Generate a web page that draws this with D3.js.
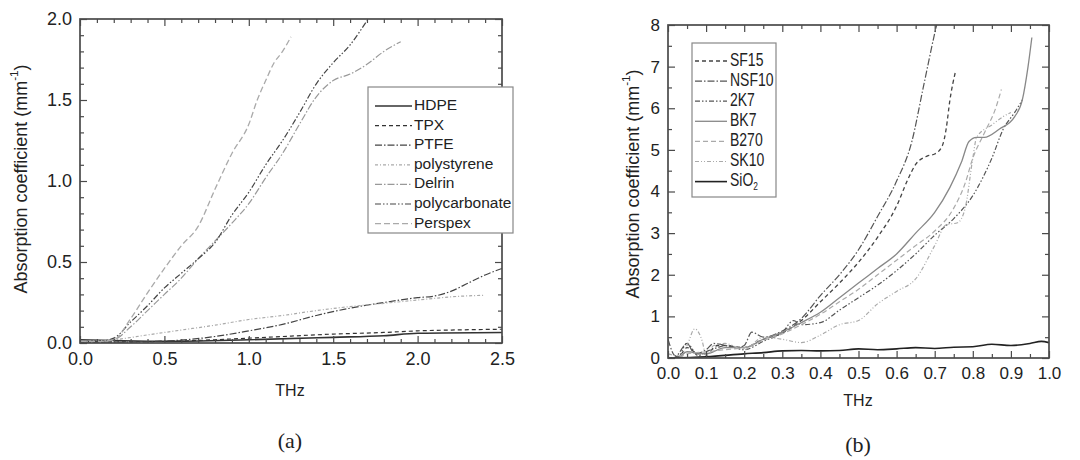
<!DOCTYPE html>
<html>
<head>
<meta charset="utf-8">
<script src="https://cdn.jsdelivr.net/npm/d3@7"></script>
<style>
  html, body { margin: 0; padding: 0; background: #fff; }
  svg { display: block; }
  .sans { font-family: "Liberation Sans", Arial, sans-serif; fill: #222; }
  .serif { font-family: "Liberation Serif", "DejaVu Serif", serif; fill: #222; }
</style>
</head>
<body>
<svg id="fig" width="1080" height="460"></svg>
<script>
// ---- Panel (a): polymers, absorption coefficient (mm^-1) vs frequency (THz)
const polymerNames = ["HDPE", "TPX", "PTFE", "polystyrene", "Delrin", "polycarbonate", "Perspex"];
const hdpe = [[0,0.02],[0.2,0.015],[0.5,0.01],[1.0,0.02],[1.5,0.035],[1.8,0.045],[2.0,0.06],[2.5,0.065]];
const tpx = [[0,0.005],[0.5,0.01],[0.8,0.02],[1.0,0.03],[1.2,0.04],[1.5,0.055],[1.8,0.065],[2.0,0.075],[2.2,0.08],[2.5,0.085]];
const ptfe = [[0,0.005],[0.2,0.005],[0.4,0.008],[0.6,0.018],[0.8,0.04],[1.0,0.075],[1.2,0.115],[1.4,0.17],[1.6,0.215],[1.8,0.25],[2.0,0.28],[2.1,0.29],[2.2,0.32],[2.3,0.37],[2.4,0.42],[2.5,0.46]];
const polystyrene = [[0,0.01],[0.2,0.02],[0.4,0.05],[0.6,0.08],[0.8,0.11],[1.0,0.145],[1.2,0.17],[1.4,0.2],[1.6,0.225],[1.8,0.245],[2.0,0.265],[2.2,0.285],[2.4,0.295]];
const delrin = [[0,0.01],[0.1,0.01],[0.2,0.02],[0.3,0.1],[0.4,0.2],[0.5,0.3],[0.6,0.4],[0.7,0.52],[0.8,0.63],[0.9,0.74],[1.0,0.86],[1.1,1.02],[1.2,1.17],[1.3,1.35],[1.4,1.52],[1.5,1.62],[1.6,1.66],[1.7,1.72],[1.8,1.8],[1.9,1.86]];
const polycarbonate = [[0,0.01],[0.1,0.01],[0.2,0.03],[0.3,0.13],[0.4,0.23],[0.5,0.34],[0.6,0.43],[0.7,0.52],[0.8,0.62],[0.9,0.79],[1.0,0.93],[1.1,1.1],[1.2,1.25],[1.3,1.42],[1.4,1.6],[1.5,1.73],[1.6,1.84],[1.7,1.99]];
const perspex = [[0,0.01],[0.1,0.01],[0.2,0.02],[0.3,0.15],[0.4,0.31],[0.5,0.46],[0.6,0.6],[0.7,0.72],[0.8,0.95],[0.9,1.17],[1.0,1.35],[1.05,1.5],[1.1,1.62],[1.15,1.73],[1.2,1.8],[1.25,1.89]];
const xTicksA = [0, 0.5, 1.0, 1.5, 2.0, 2.5];
const yTicksA = [0, 0.5, 1.0, 1.5, 2.0];

// ---- Panel (b): glasses
const glassNames = ["SF15", "NSF10", "2K7", "BK7", "B270", "SK10", "SiO2"];
const sf15 = [[0,0.0],[0.03,0.05],[0.05,0.25],[0.08,0.1],[0.1,0.1],[0.13,0.3],[0.15,0.3],[0.2,0.25],[0.25,0.45],[0.3,0.6],[0.35,0.9],[0.4,1.35],[0.45,1.8],[0.5,2.3],[0.55,2.9],[0.6,3.65],[0.63,4.3],[0.65,4.65],[0.68,4.85],[0.7,4.9],[0.72,5.1],[0.73,5.5],[0.74,6.2],[0.755,6.9]];
const nsf10 = [[0,0.45],[0.02,0.05],[0.05,0.35],[0.07,0.1],[0.1,0.2],[0.12,0.35],[0.15,0.3],[0.18,0.25],[0.2,0.3],[0.22,0.62],[0.25,0.5],[0.3,0.65],[0.35,0.95],[0.4,1.5],[0.45,2.0],[0.5,2.6],[0.55,3.4],[0.6,4.25],[0.64,5.2],[0.67,6.5],[0.7,7.8],[0.705,8.0]];
const k27 = [[0.03,0.0],[0.05,0.35],[0.08,0.05],[0.1,0.15],[0.13,0.25],[0.15,0.3],[0.2,0.2],[0.25,0.4],[0.3,0.62],[0.33,0.9],[0.35,0.8],[0.4,0.85],[0.45,1.15],[0.5,1.45],[0.55,1.75],[0.6,2.1],[0.65,2.5],[0.7,2.95],[0.75,3.35],[0.8,3.9],[0.85,4.8],[0.88,5.5],[0.91,5.9],[0.93,6.2]];
const bk7 = [[0.03,0.0],[0.05,0.15],[0.1,0.1],[0.15,0.25],[0.2,0.25],[0.25,0.45],[0.3,0.62],[0.35,0.85],[0.4,1.1],[0.45,1.45],[0.5,1.8],[0.55,2.15],[0.6,2.5],[0.65,3.0],[0.7,3.5],[0.74,4.1],[0.77,4.7],[0.79,5.2],[0.81,5.3],[0.83,5.3],[0.87,5.5],[0.91,5.8],[0.93,6.2],[0.945,7.0],[0.955,7.7]];
const b270 = [[0.03,0.0],[0.05,0.1],[0.1,0.15],[0.15,0.2],[0.2,0.25],[0.25,0.42],[0.3,0.58],[0.35,0.8],[0.4,1.05],[0.45,1.35],[0.5,1.65],[0.55,2.0],[0.6,2.35],[0.65,2.7],[0.7,3.05],[0.75,3.6],[0.78,4.2],[0.8,4.8],[0.83,5.4],[0.86,6.0],[0.875,6.45]];
const sk10 = [[0,0.1],[0.03,0.05],[0.05,0.3],[0.07,0.7],[0.09,0.4],[0.1,0.05],[0.12,0.3],[0.15,0.35],[0.2,0.2],[0.25,0.5],[0.3,0.45],[0.35,0.37],[0.4,0.55],[0.45,0.8],[0.5,0.9],[0.55,1.3],[0.6,1.6],[0.65,1.9],[0.7,2.7],[0.73,3.2],[0.76,3.25],[0.78,3.6],[0.8,4.8],[0.81,5.3],[0.85,5.6],[0.88,5.8],[0.9,5.9]];
const sio2 = [[0,0.0],[0.1,0.03],[0.2,0.1],[0.25,0.13],[0.3,0.17],[0.35,0.18],[0.4,0.17],[0.45,0.18],[0.5,0.22],[0.55,0.2],[0.6,0.22],[0.65,0.25],[0.7,0.23],[0.75,0.26],[0.8,0.27],[0.85,0.33],[0.9,0.3],[0.95,0.35],[0.98,0.4],[1.0,0.37]];
const xTicksB = [0,0.1,0.2,0.3,0.4,0.5,0.6,0.7,0.8,0.9,1.0];
const yTicksB = [0,1,2,3,4,5,6,7,8];

const svg = d3.select("#fig");
svg.append("rect").attr("width", 1080).attr("height", 460).attr("fill", "#fff");

// line styles, one per series
const stylesA = [
  { data: hdpe,          stroke: "#333", width: 1.6, dash: null },
  { data: tpx,           stroke: "#333", width: 1.2, dash: "4,3" },
  { data: ptfe,          stroke: "#444", width: 1.2, dash: "7,2,1.5,2" },
  { data: polystyrene,   stroke: "#aaa", width: 1.2, dash: "3,2,1,2" },
  { data: delrin,        stroke: "#999", width: 1.2, dash: "7,2,1.5,2" },
  { data: polycarbonate, stroke: "#444", width: 1.2, dash: "6,2,1.5,2,1.5,2" },
  { data: perspex,       stroke: "#aaa", width: 1.3, dash: "6,3" }
];
const stylesB = [
  { data: sf15,  stroke: "#444", width: 1.3, dash: "4,3" },
  { data: nsf10, stroke: "#555", width: 1.2, dash: "7,2,1.5,2" },
  { data: k27,   stroke: "#555", width: 1.2, dash: "5,2,1.5,2,1.5,2" },
  { data: bk7,   stroke: "#888", width: 1.3, dash: null },
  { data: b270,  stroke: "#aaa", width: 1.2, dash: "5,3" },
  { data: sk10,  stroke: "#aaa", width: 1.2, dash: "4,2,1,2,1,2" },
  { data: sio2,  stroke: "#222", width: 1.6, dash: null }
];

function framedAxes(g, x, y, opt) {
  const [x0, x1] = x.range();
  const [y0, y1] = y.range();
  const axisColor = "#4a4a4a";
  function styleAxis(sel) {
    sel.select(".domain").remove();
    sel.selectAll(".tick line").attr("stroke", axisColor).attr("stroke-width", 1.2);
  }
  // major ticks with labels (bottom / left), pointing inward
  g.append("g").attr("transform", `translate(0,${y0})`)
    .call(d3.axisBottom(x).tickValues(opt.xMajor).tickSizeInner(-opt.major).tickSizeOuter(0)
      .tickPadding(opt.major + opt.xPad).tickFormat(opt.xFmt))
    .call(styleAxis)
    .call(s => s.selectAll("text").attr("class", "sans").style("font-size", opt.tickSize + "px"));
  g.append("g").attr("transform", `translate(${x0},0)`)
    .call(d3.axisLeft(y).tickValues(opt.yMajor).tickSizeInner(-opt.major).tickSizeOuter(0)
      .tickPadding(opt.major + opt.yPad).tickFormat(opt.yFmt))
    .call(styleAxis)
    .call(s => s.selectAll("text").attr("class", "sans").style("font-size", opt.tickSize + "px"));
  // mirrored major ticks on top / right
  g.append("g").attr("transform", `translate(0,${y1})`)
    .call(d3.axisTop(x).tickValues(opt.xMajor).tickSizeInner(-opt.major).tickSizeOuter(0).tickFormat(""))
    .call(styleAxis);
  g.append("g").attr("transform", `translate(${x1},0)`)
    .call(d3.axisRight(y).tickValues(opt.yMajor).tickSizeInner(-opt.major).tickSizeOuter(0).tickFormat(""))
    .call(styleAxis);
  // minor ticks on all four sides
  const minorX = d3.range(0, opt.xMinorN + 1).map(i => x.domain()[0] + i * opt.xMinorStep)
    .filter(v => !opt.xMajor.some(m => Math.abs(m - v) < 1e-9));
  const minorY = d3.range(0, opt.yMinorN + 1).map(i => y.domain()[0] + i * opt.yMinorStep)
    .filter(v => !opt.yMajor.some(m => Math.abs(m - v) < 1e-9));
  g.append("g").attr("transform", `translate(0,${y0})`)
    .call(d3.axisBottom(x).tickValues(minorX).tickSizeInner(-opt.minor).tickSizeOuter(0).tickFormat("")).call(styleAxis);
  g.append("g").attr("transform", `translate(0,${y1})`)
    .call(d3.axisTop(x).tickValues(minorX).tickSizeInner(-opt.minor).tickSizeOuter(0).tickFormat("")).call(styleAxis);
  g.append("g").attr("transform", `translate(${x0},0)`)
    .call(d3.axisLeft(y).tickValues(minorY).tickSizeInner(-opt.minor).tickSizeOuter(0).tickFormat("")).call(styleAxis);
  g.append("g").attr("transform", `translate(${x1},0)`)
    .call(d3.axisRight(y).tickValues(minorY).tickSizeInner(-opt.minor).tickSizeOuter(0).tickFormat("")).call(styleAxis);
  // frame
  g.append("rect").attr("x", x0).attr("y", y1).attr("width", x1 - x0).attr("height", y0 - y1)
    .attr("fill", "none").attr("stroke", axisColor).attr("stroke-width", 1.7);
}

function drawSeries(g, x, y, styles) {
  const line = d3.line().x(d => x(d[0])).y(d => y(d[1])).curve(d3.curveMonotoneX);
  styles.forEach(s => {
    g.append("path").datum(s.data).attr("d", line)
      .attr("fill", "none").attr("stroke", s.stroke).attr("stroke-width", s.width)
      .attr("stroke-dasharray", s.dash).attr("stroke-linejoin", "round");
  });
}

function yLabel(g, cx, cy, size) {
  const t = g.append("text").attr("class", "sans").style("font-size", size + "px")
    .attr("transform", `translate(${cx},${cy}) rotate(-90)`).attr("text-anchor", "middle")
    .attr("dominant-baseline", "middle");
  t.append("tspan").text("Absorption coefficient (mm");
  t.append("tspan").attr("dy", -size * 0.4).style("font-size", (size * 0.65) + "px").text("-1");
  t.append("tspan").attr("dy", size * 0.4).text(")");
}

// legend box; squeeze < 1 narrows the text horizontally
function legend(g, box, rowY0, rowStep, lineX0, lineX1, textX, names, styles, size, squeeze) {
  g.append("rect").attr("x", box[0]).attr("y", box[1]).attr("width", box[2]).attr("height", box[3])
    .attr("fill", "#fff").attr("stroke", "#888").attr("stroke-width", 1.2);
  names.forEach((n, i) => {
    const yy = rowY0 + i * rowStep;
    const s = styles[i];
    g.append("line").attr("x1", lineX0).attr("x2", lineX1).attr("y1", yy).attr("y2", yy)
      .attr("stroke", s.stroke).attr("stroke-width", s.width).attr("stroke-dasharray", s.dash);
    const t = g.append("text").attr("class", "sans").style("font-size", size + "px")
      .attr("transform", `translate(${textX},${yy}) scale(${squeeze},1)`)
      .attr("dominant-baseline", "middle");
    if (n === "SiO2") {
      t.append("tspan").text("SiO");
      t.append("tspan").attr("dy", size * 0.3).style("font-size", (size * 0.6) + "px").text("2");
    } else {
      t.text(n);
    }
  });
}

// ---- Panel (a)
{
  const g = svg.append("g");
  const x = d3.scaleLinear().domain([0, 2.5]).range([80, 502]);
  const y = d3.scaleLinear().domain([0, 2.0]).range([343, 19]);
  g.append("clipPath").attr("id", "clipA").append("rect")
    .attr("x", 80).attr("y", 19).attr("width", 422).attr("height", 324);
  drawSeries(g.append("g").attr("clip-path", "url(#clipA)"), x, y, stylesA);
  framedAxes(g, x, y, {
    xMajor: xTicksA, yMajor: yTicksA, major: 7, minor: 4,
    xMinorN: 25, xMinorStep: 0.1, yMinorN: 20, yMinorStep: 0.1,
    xFmt: d3.format(".1f"), yFmt: d3.format(".1f"),
    tickSize: 18, xPad: 2, yPad: 1
  });
  legend(g, [368, 87, 145, 146], 106, 19.6, 375, 412, 414, polymerNames, stylesA, 15.5, 1);
  yLabel(g, 22, 179, 18);
  g.append("text").attr("class", "sans").style("font-size", "16px")
    .attr("x", 290).attr("y", 392).attr("text-anchor", "middle").attr("dominant-baseline", "middle").text("THz");
  g.append("text").attr("class", "serif").style("font-size", "22px")
    .attr("x", 290).attr("y", 443).attr("text-anchor", "middle").attr("dominant-baseline", "middle").text("(a)");
}

// ---- Panel (b)
{
  const g = svg.append("g");
  const x = d3.scaleLinear().domain([0, 1.0]).range([668, 1049]);
  const y = d3.scaleLinear().domain([0, 8]).range([358, 25]);
  g.append("clipPath").attr("id", "clipB").append("rect")
    .attr("x", 668).attr("y", 25).attr("width", 381).attr("height", 333);
  drawSeries(g.append("g").attr("clip-path", "url(#clipB)"), x, y, stylesB);
  framedAxes(g, x, y, {
    xMajor: xTicksB, yMajor: yTicksB, major: 7, minor: 4,
    xMinorN: 20, xMinorStep: 0.05, yMinorN: 16, yMinorStep: 0.5,
    xFmt: d3.format(".1f"), yFmt: d3.format("d"),
    tickSize: 17, xPad: 2, yPad: 1
  });
  legend(g, [692, 43, 84, 154], 61, 20.1, 695, 727, 730, glassNames, stylesB, 17.5, 0.8);
  yLabel(g, 634, 184, 18);
  g.append("text").attr("class", "sans").style("font-size", "16px")
    .attr("x", 858).attr("y", 402).attr("text-anchor", "middle").attr("dominant-baseline", "middle").text("THz");
  g.append("text").attr("class", "serif").style("font-size", "22px")
    .attr("x", 858).attr("y", 447).attr("text-anchor", "middle").attr("dominant-baseline", "middle").text("(b)");
}
</script>
</body>
</html>
